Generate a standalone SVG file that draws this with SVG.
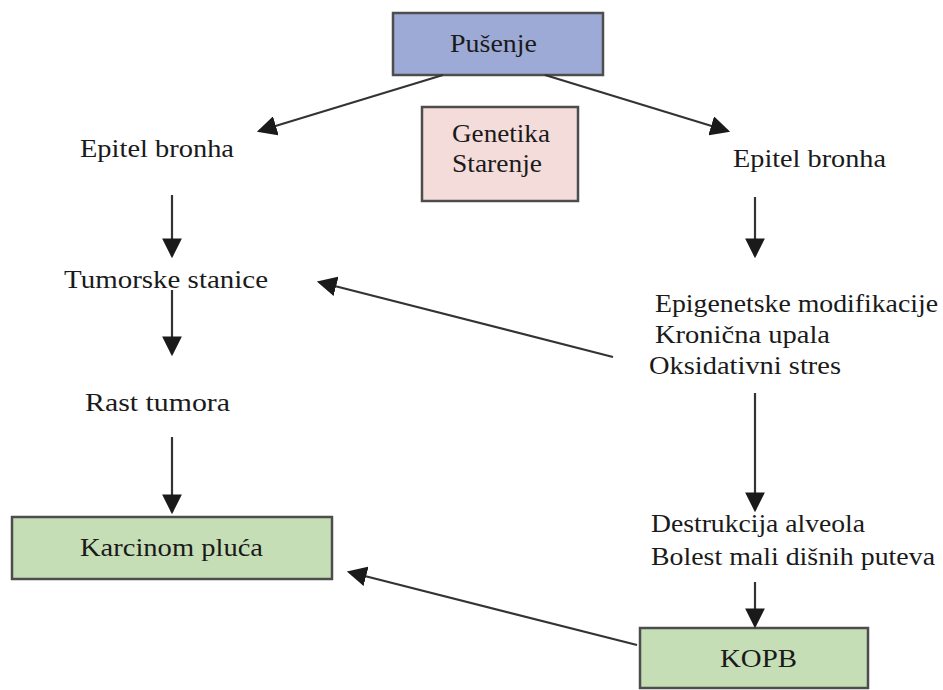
<svg xmlns="http://www.w3.org/2000/svg" width="943" height="690" viewBox="0 0 943 690">
<defs>
<marker id="ah" markerWidth="9" markerHeight="9" refX="8" refY="4.5" orient="auto" markerUnits="strokeWidth">
<path d="M0,0 L9,4.5 L0,9 Z" fill="#1a1a1a"/>
</marker>
<style>
.t{font-family:"Liberation Serif","Times New Roman",serif;font-size:26px;fill:#1a1a1a}
.box{stroke:#4d4d4d;stroke-width:2.5}
.c{stroke:#333;stroke-width:2.2;fill:none;marker-end:url(#ah)}
</style>
</defs>
<rect width="943" height="690" fill="#fff"/>
<g id="pusenje"><rect class="box" x="393" y="13" width="210" height="62" fill="#9eaad6"/><text class="t" x="450" y="52" textLength="87" lengthAdjust="spacingAndGlyphs">Pušenje</text></g>
<g id="genetika"><rect class="box" x="422" y="107" width="156" height="94" fill="#f4dcda"/><text class="t" x="452" y="142" textLength="98" lengthAdjust="spacingAndGlyphs">Genetika</text><text class="t" x="452" y="172" textLength="90" lengthAdjust="spacingAndGlyphs">Starenje</text></g>
<g id="epitel-l"><text class="t" x="80" y="157" textLength="154" lengthAdjust="spacingAndGlyphs">Epitel bronha</text></g>
<g id="epitel-r"><text class="t" x="733" y="167" textLength="153" lengthAdjust="spacingAndGlyphs">Epitel bronha</text></g>
<g id="tumorske"><text class="t" x="64" y="288" textLength="204" lengthAdjust="spacingAndGlyphs">Tumorske stanice</text></g>
<g id="rast"><text class="t" x="85" y="411" textLength="145" lengthAdjust="spacingAndGlyphs">Rast tumora</text></g>
<g id="karcinom"><rect class="box" x="12" y="517" width="320" height="62" fill="#c6deb6"/><text class="t" x="80" y="556" textLength="183" lengthAdjust="spacingAndGlyphs">Karcinom pluća</text></g>
<g id="epigenetske"><text class="t" x="655" y="312" textLength="283" lengthAdjust="spacingAndGlyphs">Epigenetske modifikacije</text><text class="t" x="655" y="343" textLength="175" lengthAdjust="spacingAndGlyphs">Kronična upala</text><text class="t" x="649" y="374" textLength="192" lengthAdjust="spacingAndGlyphs">Oksidativni stres</text></g>
<g id="destrukcija"><text class="t" x="651" y="532" textLength="214" lengthAdjust="spacingAndGlyphs">Destrukcija alveola</text><text class="t" x="651" y="565" textLength="284" lengthAdjust="spacingAndGlyphs">Bolest mali dišnih puteva</text></g>
<g id="kopb"><rect class="box" x="640" y="628" width="228" height="60" fill="#c6deb6"/><text class="t" x="720" y="667" textLength="77" lengthAdjust="spacingAndGlyphs">KOPB</text></g>
<g id="connectors">
<line class="c" x1="443" y1="75" x2="259" y2="131"/>
<line class="c" x1="545" y1="75" x2="728" y2="131"/>
<line class="c" x1="172" y1="195" x2="172" y2="256"/>
<line class="c" x1="172" y1="290" x2="172" y2="354"/>
<line class="c" x1="172" y1="437" x2="172" y2="512"/>
<line class="c" x1="755" y1="197" x2="755" y2="256"/>
<line class="c" x1="755" y1="393" x2="755" y2="510"/>
<line class="c" x1="755" y1="582" x2="755" y2="626"/>
<line class="c" x1="613" y1="357" x2="319" y2="282"/>
<line class="c" x1="637" y1="645" x2="349" y2="572"/>
</g>
</svg>
